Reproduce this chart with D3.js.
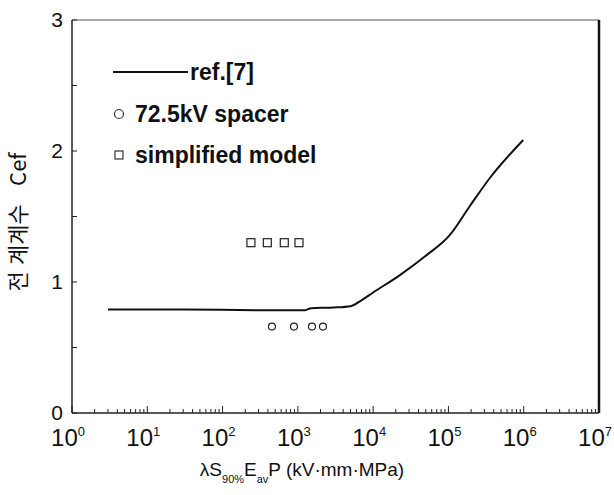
<!DOCTYPE html>
<html lang="ko">
<head>
    <meta charset="utf-8">
    <title>Cef</title>
    <script src="https://cdn.jsdelivr.net/npm/d3@7"></script>
    <style>
        body { margin: 0; background: #fff; }
        svg text { font-family: Arial, "Liberation Sans", sans-serif; fill: #111; }
    </style>
</head>
<body>
    <div id="chart"></div>
    <script>
        // ref.[7] curve: x value, Cef
        const refX = [3, 30, 300, 1250, 1500, 3000, 5000, 7000, 10000, 22700, 50000, 104700, 192800, 354800, 986000];
        const refY = [0.79, 0.79, 0.785, 0.785, 0.80, 0.805, 0.815, 0.86, 0.92, 1.053, 1.20, 1.359, 1.58, 1.794, 2.084];

        // 72.5kV spacer (circles)
        const spacerX = [453, 888, 1540, 2155];
        const spacerY = [0.66, 0.66, 0.66, 0.66];

        // simplified model (squares)
        const modelX = [238, 393, 660, 1035];
        const modelY = [1.30, 1.30, 1.30, 1.30];

        const yTicks = [0, 1, 2, 3];
        const xDecades = [0, 1, 2, 3, 4, 5, 6, 7];

        const width = 614, height = 495;
        const margin = { left: 72, right: 15, top: 20, bottom: 82 };

        const svg = d3.select("#chart").append("svg")
            .attr("width", width)
            .attr("height", height);

        const x = d3.scaleLog()
            .domain([1, 1e7])
            .range([margin.left, width - margin.right]);

        const y = d3.scaleLinear()
            .domain([0, 3])
            .range([height - margin.bottom, margin.top]);

        const x0 = x.range()[0], x1 = x.range()[1];
        const y0 = y.range()[0], y1 = y.range()[1];

        // cadre
        svg.append("line").attr("x1", x0).attr("x2", x1).attr("y1", y1).attr("y2", y1)
            .attr("stroke", "#555").attr("stroke-width", 1.2);
        svg.append("line").attr("x1", x1).attr("x2", x1).attr("y1", y1).attr("y2", y0)
            .attr("stroke", "#111").attr("stroke-width", 2.5);
        svg.append("line").attr("x1", x0).attr("x2", x0).attr("y1", y1).attr("y2", y0)
            .attr("stroke", "#222").attr("stroke-width", 1.5);
        svg.append("line").attr("x1", x0).attr("x2", x1).attr("y1", y0).attr("y2", y0)
            .attr("stroke", "#222").attr("stroke-width", 1.5);

        // x ticks (log, inward)
        const minor = [];
        xDecades.slice(0, -1).forEach(d => {
            for (let k = 2; k <= 9; k++) minor.push(k * Math.pow(10, d));
        });
        svg.append("g").selectAll("line.minor").data(minor).enter().append("line")
            .attr("x1", d => x(d)).attr("x2", d => x(d))
            .attr("y1", y0).attr("y2", y0 - 4)
            .attr("stroke", "#222").attr("stroke-width", 1);
        svg.append("g").selectAll("line.major").data(xDecades).enter().append("line")
            .attr("x1", d => x(Math.pow(10, d))).attr("x2", d => x(Math.pow(10, d)))
            .attr("y1", y0).attr("y2", y0 - 7)
            .attr("stroke", "#222").attr("stroke-width", 1);

        const xLab = svg.append("g").selectAll("text").data(xDecades).enter().append("text")
            .attr("x", d => x(Math.pow(10, d)) - 4)
            .attr("y", y0 + 33)
            .attr("text-anchor", "middle")
            .attr("font-size", 24);
        xLab.append("tspan").text("10");
        xLab.append("tspan").attr("dy", -10).attr("font-size", 13).text(d => d);

        // y ticks (inward)
        svg.append("g").selectAll("line").data(d3.range(0, 3.01, 0.5)).enter().append("line")
            .attr("x1", x0).attr("x2", x0 + 5)
            .attr("y1", d => y(d)).attr("y2", d => y(d))
            .attr("stroke", "#222").attr("stroke-width", 1);
        svg.append("g").selectAll("text").data(yTicks).enter().append("text")
            .attr("x", x0 - 9)
            .attr("y", d => y(d) + 7)
            .attr("text-anchor", "end")
            .attr("font-size", 21)
            .text(d => d);

        // axis titles
        const xt = svg.append("text")
            .attr("x", 302).attr("y", 476)
            .attr("text-anchor", "middle")
            .attr("font-size", 19);
        xt.append("tspan").text("λS");
        xt.append("tspan").attr("dy", 7).attr("font-size", 11).text("90%");
        xt.append("tspan").attr("dy", -7).text("E");
        xt.append("tspan").attr("dy", 7).attr("font-size", 11).text("av");
        xt.append("tspan").attr("dy", -7).text("P (kV·mm·MPa)");

        svg.append("text")
            .attr("transform", "translate(26," + 222 + ") rotate(-90)")
            .attr("text-anchor", "middle")
            .attr("font-size", 22)
            .style("white-space", "pre")
            .style("font-family", "'Noto Sans CJK KR', Arial, sans-serif")
            .text("전 계계수   Cef");

        // ref.[7] line
        const refData = refX.map((v, i) => [v, refY[i]]);
        svg.append("path")
            .datum(refData)
            .attr("fill", "none")
            .attr("stroke", "#111")
            .attr("stroke-width", 2)
            .attr("d", d3.line().curve(d3.curveMonotoneX).x(d => x(d[0])).y(d => y(d[1])));

        // spacer circles
        svg.append("g").selectAll("circle").data(spacerX).enter().append("circle")
            .attr("cx", d => x(d))
            .attr("cy", (d, i) => y(spacerY[i]))
            .attr("r", 3.5)
            .attr("fill", "none").attr("stroke", "#222").attr("stroke-width", 1.2);

        // model squares
        svg.append("g").selectAll("rect").data(modelX).enter().append("rect")
            .attr("x", d => x(d) - 4)
            .attr("y", (d, i) => y(modelY[i]) - 4)
            .attr("width", 8).attr("height", 8)
            .attr("fill", "none").attr("stroke", "#222").attr("stroke-width", 1.2);

        // legende
        const lg = svg.append("g");
        lg.append("line").attr("x1", 113).attr("x2", 188).attr("y1", 72).attr("y2", 72)
            .attr("stroke", "#111").attr("stroke-width", 2);
        lg.append("text").attr("x", 190).attr("y", 80).attr("font-size", 23).attr("font-weight", "bold")
            .text("ref.[7]");
        lg.append("circle").attr("cx", 119).attr("cy", 114).attr("r", 4.5)
            .attr("fill", "none").attr("stroke", "#333").attr("stroke-width", 1.2);
        lg.append("text").attr("x", 135).attr("y", 122).attr("font-size", 23).attr("font-weight", "bold")
            .text("72.5kV spacer");
        lg.append("rect").attr("x", 115).attr("y", 151).attr("width", 8).attr("height", 8)
            .attr("fill", "none").attr("stroke", "#333").attr("stroke-width", 1.2);
        lg.append("text").attr("x", 135).attr("y", 163).attr("font-size", 23).attr("font-weight", "bold")
            .text("simplified model");
    </script>
</body>
</html>
